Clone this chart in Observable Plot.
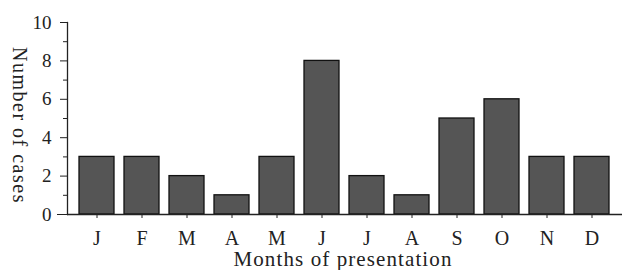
<!DOCTYPE html>
<html>
<head>
<meta charset="utf-8">
<script src="https://cdn.jsdelivr.net/npm/d3@7"></script>
<script src="https://cdn.jsdelivr.net/npm/@observablehq/plot@0.6"></script>
<style>
  html, body { margin: 0; padding: 0; background: #fff; }
  #chart svg { display: block; }
</style>
</head>
<body>
<div id="chart"></div>
<script>
const months = ["J","F","M","A","M","J","J","A","S","O","N","D"];
const cases = [3, 3, 2, 1, 3, 8, 2, 1, 5, 6, 3, 3];
const majorTicks = [0, 2, 4, 6, 8, 10];
const minorTicks = [1, 3, 5, 7, 9];
const xLabel = "Months of presentation";
const yLabel = "Number of cases";

const data = months.map((m, i) => ({key: i, month: m, value: cases[i]}));
const keys = data.map(d => d.key);

const chart = Plot.plot({
  width: 625,
  height: 270,
  marginLeft: 67,
  marginRight: 3,
  marginTop: 22,
  marginBottom: 56,
  style: {fontFamily: "'Liberation Serif', serif", fontSize: "18px", color: "#222", background: "#fff"},
  x: {domain: keys, paddingInner: 0.22, paddingOuter: 0.25, axis: null},
  y: {domain: [0, 10], axis: null},
  marks: [
    Plot.barY(data, {x: "key", y: "value", fill: "#555", stroke: "#111", strokeWidth: 1.3}),
    Plot.frame({anchor: "left", stroke: "#222", strokeWidth: 1.3}),
    Plot.ruleY([0], {stroke: "#222", strokeWidth: 1.3}),
    Plot.axisY({ticks: majorTicks, tickSize: 7, tickPadding: 9, fontSize: 19, stroke: "#222", label: null}),
    Plot.axisY({ticks: [0], tickSize: 10, tickFormat: () => "", stroke: "#222", label: null}),
    Plot.axisY({ticks: minorTicks, tickSize: 4, tickFormat: () => "", stroke: "#222", label: null}),
    Plot.axisX({tickSize: 4, tickPadding: 12, fontSize: 20, tickFormat: i => months[i], stroke: "#222", label: null}),
    Plot.text([xLabel], {frameAnchor: "bottom", lineAnchor: "middle", dy: 45, dx: -2, fontSize: 21, text: d => d}),
    Plot.text([yLabel], {frameAnchor: "left", textAnchor: "middle", lineAnchor: "middle", dx: -48, dy: 7, rotate: 90, fontSize: 20, text: d => d})
  ]
});
const labelGroups = d3.select(chart).selectAll('g[aria-label="text"]');
labelGroups.filter((d, i) => i === 0).selectAll("text").style("letter-spacing", "1.1px");
labelGroups.filter((d, i) => i === 1).selectAll("text").style("letter-spacing", "1.5px");
document.getElementById("chart").appendChild(chart);
</script>
</body>
</html>
